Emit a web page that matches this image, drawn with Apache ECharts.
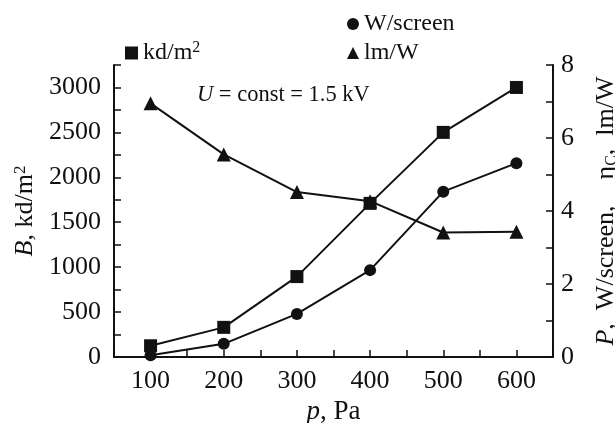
<!DOCTYPE html>
<html>
<head>
<meta charset="utf-8">
<script src="https://cdn.jsdelivr.net/npm/echarts@6/dist/echarts.min.js"></script>
<style>
  html, body { margin: 0; padding: 0; background: #fff; }
  #chart { width: 615px; height: 423px; }
</style>
</head>
<body>
<div id="chart"></div>
<script>
// pressure, Pa
const pressure = [100, 200, 300, 400, 500, 600]
// brightness B, kd/m2 (left axis)
const brightness = [125, 330, 895, 1710, 2500, 3000]
// power P, W/screen (right axis)
const power = [0.05, 0.36, 1.18, 2.38, 4.53, 5.31]
// efficiency eta_C, lm/W (right axis)
const efficiency = [6.95, 5.55, 4.52, 4.27, 3.41, 3.43]

const FONT = 'Liberation Serif'
const INK = '#111'

// rich text styles for italic letters, superscripts and subscripts
function richFor(size) {
  return {
    i: { fontFamily: FONT, fontSize: size, fontStyle: 'italic', color: INK },
    sup: { fontFamily: FONT, fontSize: Math.round(size * 0.65), color: INK, verticalAlign: 'top', padding: [0, 0, 10, 0] },
    sub: { fontFamily: FONT, fontSize: Math.round(size * 0.62), color: INK, padding: [12, 0, 0, 0] },
  }
}

function pairs(ys) {
  return pressure.map((x, i) => [x, ys[i]])
}

const chart = echarts.init(document.getElementById('chart'), null, { renderer: 'canvas' })

const axisLine = { show: true, lineStyle: { color: INK, width: 2 } }
const axisTick = { show: true, inside: true, length: 7, lineStyle: { color: INK, width: 1.5 } }
const labelStyle = { color: INK, fontFamily: FONT, fontSize: 26 }

chart.setOption({
  animation: false,
  backgroundColor: '#fff',
  textStyle: { fontFamily: FONT },
  // fixed plot box, the right axis title runs to the edge like in the original
  grid: { left: 114, right: 62, top: 65, bottom: 66, containLabel: false, outerBoundsMode: 'none' },
  legend: [
    {
      data: [{ name: 'kd/m2', icon: 'rect' }],
      left: 120, top: 35,
      itemWidth: 13, itemHeight: 13,
      formatter: () => 'kd/m{sup|2}',
      textStyle: { color: INK, fontFamily: FONT, fontSize: 24, rich: richFor(24) },
    },
    {
      data: [{ name: 'W/screen', icon: 'circle' }, { name: 'lm/W', icon: 'triangle' }],
      orient: 'vertical',
      left: 342, top: 7,
      itemGap: 5,
      itemWidth: 12, itemHeight: 12,
      textStyle: { color: INK, fontFamily: FONT, fontSize: 24 },
    },
  ],
  graphic: [{
    type: 'text',
    left: 197, top: 84,
    style: {
      text: '{i|U} = const = 1.5 kV',
      fontFamily: FONT, fontSize: 22.5, fill: INK,
      rich: richFor(22.5),
    },
  }],
  xAxis: {
    type: 'value',
    min: 50, max: 650, interval: 50,
    name: '{i|p}, Pa',
    nameLocation: 'middle', nameGap: 38,
    nameTextStyle: { color: INK, fontFamily: FONT, fontSize: 27, rich: richFor(27) },
    axisLine: axisLine,
    axisTick: axisTick,
    splitLine: { show: false },
    axisLabel: Object.assign({ margin: 11, formatter: v => (v % 100 === 0 ? v : '') }, labelStyle),
  },
  yAxis: [
    {
      type: 'value',
      min: 0, max: 3250, interval: 250,
      name: '{i|B}, kd/m{sup|2}',
      nameLocation: 'middle', nameGap: 72,
      nameTextStyle: { color: INK, fontFamily: FONT, fontSize: 26, rich: richFor(26) },
      axisLine: axisLine,
      axisTick: axisTick,
      splitLine: { show: false },
      axisLabel: Object.assign({ margin: 13, formatter: v => (v % 500 === 0 ? v : '') }, labelStyle),
    },
    {
      type: 'value',
      position: 'right',
      min: 0, max: 8, interval: 1,
      name: '{i|P},  W/screen,    η{sub|C},  lm/W',
      nameLocation: 'middle', nameGap: 39,
      nameTextStyle: { color: INK, fontFamily: FONT, fontSize: 26, rich: richFor(26) },
      axisLine: axisLine,
      axisTick: axisTick,
      splitLine: { show: false },
      axisLabel: Object.assign({ margin: 8, formatter: v => (v % 2 === 0 ? v : '') }, labelStyle),
    },
  ],
  series: [
    {
      name: 'kd/m2', type: 'line', yAxisIndex: 0,
      data: pairs(brightness),
      symbol: 'rect', symbolSize: 13,
      itemStyle: { color: INK },
      lineStyle: { color: INK, width: 2 },
    },
    {
      name: 'W/screen', type: 'line', yAxisIndex: 1,
      data: pairs(power),
      symbol: 'circle', symbolSize: 12,
      itemStyle: { color: INK },
      lineStyle: { color: INK, width: 2 },
    },
    {
      name: 'lm/W', type: 'line', yAxisIndex: 1,
      data: pairs(efficiency),
      symbol: 'triangle', symbolSize: 14,
      itemStyle: { color: INK },
      lineStyle: { color: INK, width: 2 },
    },
  ],
})
</script>
</body>
</html>
